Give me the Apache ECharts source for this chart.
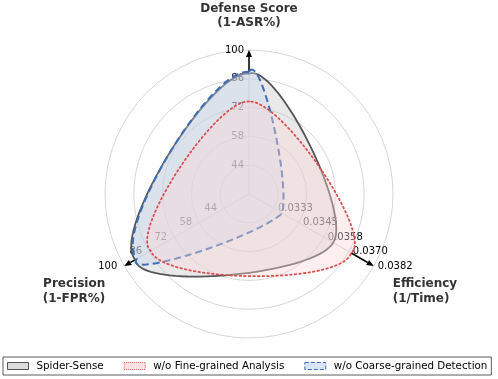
<!DOCTYPE html>
<html>
<head>
<meta charset="utf-8">
<script src="https://cdn.jsdelivr.net/npm/echarts@6/dist/echarts.min.js"></script>
<style>
  html, body { margin: 0; padding: 0; background: #fff; }
  #chart { width: 498px; height: 379px; }
</style>
</head>
<body>
<div id="chart"></div>
<script>
// spokes, counter-clockwise from the top
var axisNames = ['Defense Score\n(1-ASR%)', 'Precision\n(1-FPR%)', 'Efficiency\n(1/Time)'];
var axisMin = [30, 30, 0.0321];
var axisMax = [100, 100, 0.0382];
var defenseTicks = ['44', '58', '72', '86', '100'];
var precisionTicks = ['44', '58', '72', '86', '100'];
var efficiencyTicks = ['0.0333', '0.0345', '0.0358', '0.0370', '0.0382'];

var seriesNames = ['Spider-Sense', 'w/o Fine-grained Analysis', 'w/o Coarse-grained Detection'];
// values in spoke order: defense, precision, efficiency
var spiderSense = [88.5, 93.8, 0.03622];
var woFine = [75.0, 85.2, 0.03710];
var woCoarse = [89.3, 93.0, 0.03373];

var chart = echarts.init(document.getElementById('chart'));
var FONT = 'DejaVu Sans';
var CENTER = [249, 194];
var RADIUS = 144;
var BEND = 0.42; // outward bow of the edges between spokes

function share(val, i) {
  return (val - axisMin[i]) / (axisMax[i] - axisMin[i]);
}

function toPolarItem(values) {
  var v = [];
  values.forEach(function (val, i) {
    v.push(share(val, i));
    v.push(i * 120);
  });
  return [v];
}

function makeRender(style) {
  var d = Math.PI / 180;
  return function (params, api) {
    var n = axisNames.length;
    var pts = [];
    for (var i = 0; i < n; i++) {
      var j = (i + 1) % n;
      var r0 = api.value(i * 2), a0 = api.value(i * 2 + 1) * d;
      var r1 = api.value(j * 2), a1 = api.value(j * 2 + 1) * d;
      var x0 = r0 * Math.cos(a0), y0 = r0 * Math.sin(a0);
      var x1 = r1 * Math.cos(a1), y1 = r1 * Math.sin(a1);
      for (var k = 0; k < 40; k++) {
        var s = k / 40;
        var f = 1 + BEND * 4 * s * (1 - s);
        var qx = (x0 + (x1 - x0) * s) * f;
        var qy = (y0 + (y1 - y0) * s) * f;
        var ang = Math.atan2(qy, qx) / d;
        if (ang < 0) ang += 360;
        pts.push(api.coord([Math.sqrt(qx * qx + qy * qy), ang]));
      }
    }
    return { type: 'polygon', shape: { points: pts }, style: style };
  };
}

// black arrow from the best value on each spoke out to the rim
function renderArrow(params, api) {
  var p0 = api.coord([api.value(0), api.value(1)]);
  var p1 = api.coord([1, api.value(1)]);
  var dx = p1[0] - p0[0], dy = p1[1] - p0[1];
  var len = Math.sqrt(dx * dx + dy * dy) || 1;
  var ux = dx / len, uy = dy / len;
  var hl = 7, hw = 3;
  var bx = p1[0] - ux * hl, by = p1[1] - uy * hl;
  return {
    type: 'group',
    children: [
      { type: 'line', shape: { x1: p0[0], y1: p0[1], x2: bx, y2: by }, style: { stroke: '#000', lineWidth: 1.5 } },
      { type: 'polygon', shape: { points: [[p1[0], p1[1]], [bx - uy * hw, by + ux * hw], [bx + uy * hw, by - ux * hw]] }, style: { fill: '#000' } }
    ]
  };
}

var allSeries = [spiderSense, woFine, woCoarse];
var arrowData = axisNames.map(function (n, i) {
  var best = Math.max.apply(null, allSeries.map(function (s) { return s[i]; }));
  return [share(best, i), i * 120];
});

var styles = {
  'Spider-Sense': { fill: 'rgba(200,200,200,0.4)', stroke: '#555555', lineWidth: 1.8 },
  'w/o Coarse-grained Detection': { fill: 'rgba(200,215,240,0.4)', stroke: '#3d6eb4', lineWidth: 2, lineDash: [7, 4] },
  'w/o Fine-grained Analysis': { fill: 'rgba(250,215,215,0.4)', stroke: '#dd4f4f', lineWidth: 1.8, lineDash: [1.6, 3], lineCap: 'round' }
};

var hiddenAngle = function (idx, start) {
  return {
    polarIndex: idx, type: 'value', min: 0, max: 360, startAngle: start, clockwise: false,
    axisLine: { show: false }, axisTick: { show: false }, axisLabel: { show: false }, splitLine: { show: false }
  };
};

var labelAxis = function (idx, ticks, name, gap, nameAlign, nameVAlign, lblAlign, lblPad) {
  return {
    polarIndex: idx, type: 'category', boundaryGap: false, z: 1,
    data: [''].concat(ticks),
    axisLine: { show: false }, axisTick: { show: false }, splitLine: { show: false },
    axisLabel: {
      interval: 0, margin: 0, color: '#000', fontSize: 10, fontFamily: FONT,
      align: lblAlign, verticalAlign: 'middle', padding: lblPad
    },
    name: name, nameLocation: 'end', nameGap: gap,
    nameTextStyle: {
      color: '#333', fontWeight: 'bold', fontSize: 12, fontFamily: FONT, lineHeight: 14.5,
      align: nameAlign, verticalAlign: nameVAlign
    }
  };
};

var polars = [];
for (var p = 0; p < 4; p++) polars.push({ center: CENTER, radius: RADIUS });

var option = {
  animation: false,
  backgroundColor: '#ffffff',
  textStyle: { fontFamily: FONT },
  polar: polars,
  angleAxis: [
    {
      polarIndex: 0, type: 'value', min: 0, max: 360, interval: 120, startAngle: 90, clockwise: false,
      axisLine: { show: false }, axisTick: { show: false }, axisLabel: { show: false },
      splitLine: { show: true, lineStyle: { color: '#c4c4c4', width: 0.8 } }
    },
    hiddenAngle(1, 90),
    hiddenAngle(2, 210),
    hiddenAngle(3, 330)
  ],
  radiusAxis: [
    {
      polarIndex: 0, type: 'value', min: 0, max: 1, interval: 0.2,
      axisLine: { show: false }, axisTick: { show: false }, axisLabel: { show: false },
      splitLine: { show: true, lineStyle: { color: '#cccccc', width: 0.8 } }
    },
    labelAxis(1, defenseTicks, axisNames[0], 19.5, 'center', 'bottom', 'right', [0, 5, 8, 0]),
    labelAxis(2, precisionTicks, axisNames[1], 22, 'right', 'top', 'right', [5, 7, 0, 0]),
    labelAxis(3, efficiencyTicks, axisNames[2], 22, 'left', 'top', 'left', [4, 0, 0, 4])
  ],
  legend: {
    left: 3,
    top: 357,
    orient: 'horizontal',
    padding: [4, 4, 4, 4],
    itemGap: 20,
    itemWidth: 21,
    itemHeight: 7,
    borderColor: '#333',
    borderWidth: 0.8,
    textStyle: { fontSize: 10.3, color: '#000', fontFamily: FONT, padding: [0, 0, 0, 3] },
    data: [
      { name: 'Spider-Sense', icon: 'rect', itemStyle: { color: '#dcdcdc', borderColor: '#555', borderWidth: 1 } },
      { name: 'w/o Fine-grained Analysis', icon: 'rect', itemStyle: { color: '#fbe3e3', borderColor: '#dd4f4f', borderWidth: 1, borderType: 'dotted' } },
      { name: 'w/o Coarse-grained Detection', icon: 'rect', itemStyle: { color: '#d9e4f4', borderColor: '#3d6eb4', borderWidth: 1, borderType: 'dashed' } }
    ]
  },
  series: [
    {
      name: 'axis-arrows', type: 'custom', coordinateSystem: 'polar', polarIndex: 0, z: 4,
      renderItem: renderArrow, data: arrowData, silent: true
    },
    {
      name: 'Spider-Sense', type: 'custom', coordinateSystem: 'polar', polarIndex: 0, z: 5,
      renderItem: makeRender(styles['Spider-Sense']),
      data: toPolarItem(spiderSense)
    },
    {
      name: 'w/o Coarse-grained Detection', type: 'custom', coordinateSystem: 'polar', polarIndex: 0, z: 5,
      renderItem: makeRender(styles['w/o Coarse-grained Detection']),
      data: toPolarItem(woCoarse)
    },
    {
      name: 'w/o Fine-grained Analysis', type: 'custom', coordinateSystem: 'polar', polarIndex: 0, z: 5,
      renderItem: makeRender(styles['w/o Fine-grained Analysis']),
      data: toPolarItem(woFine)
    }
  ]
};

chart.setOption(option);
</script>
</body>
</html>
